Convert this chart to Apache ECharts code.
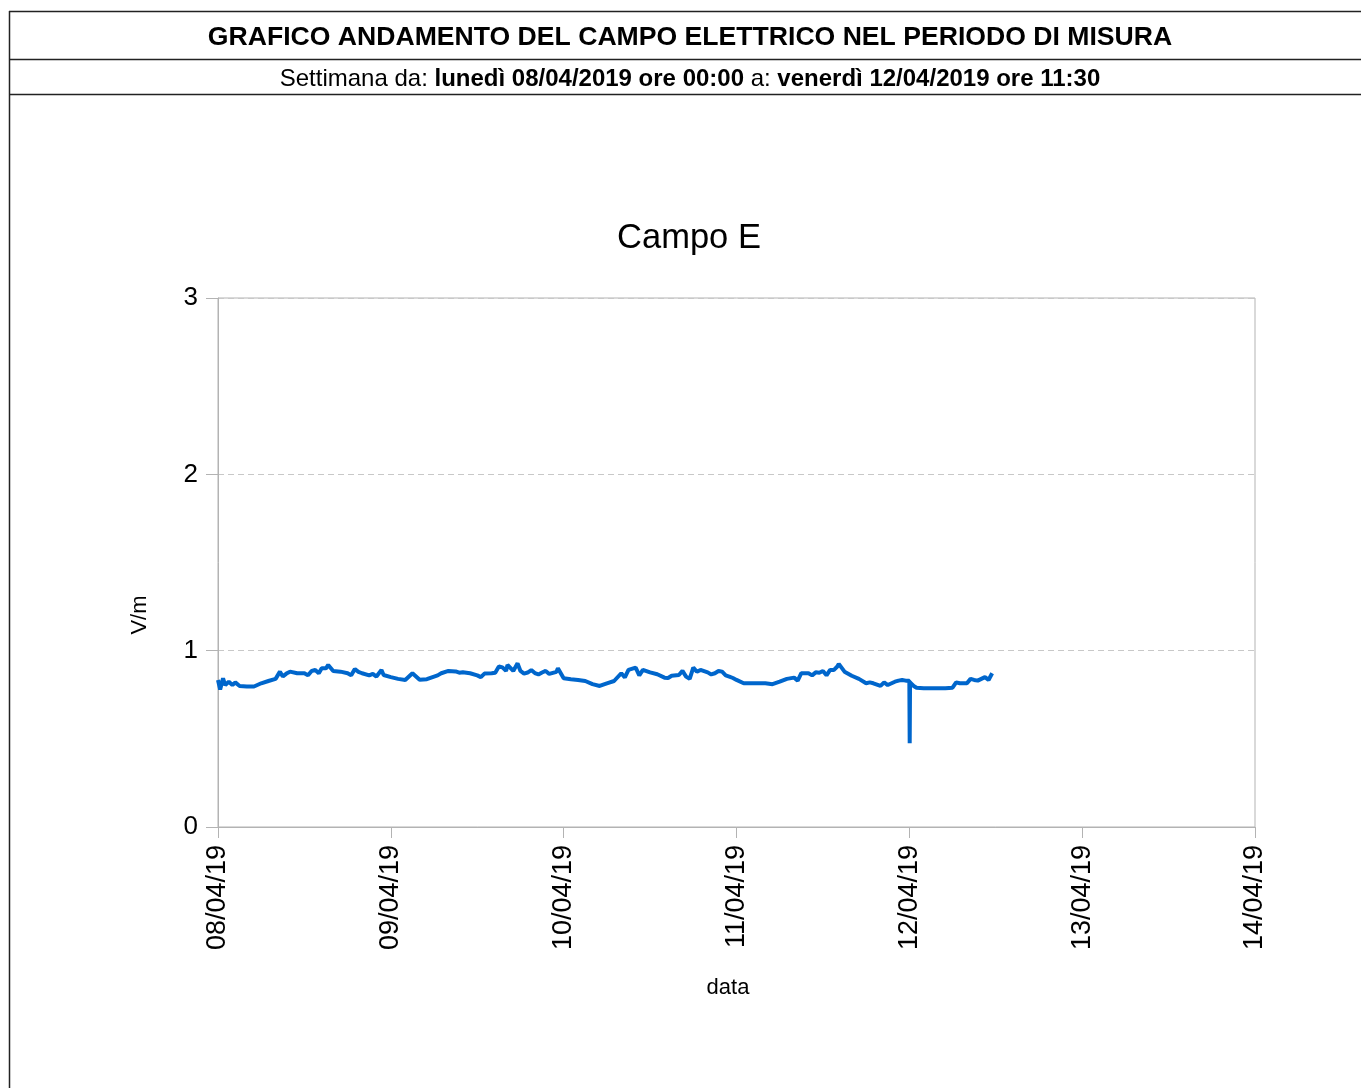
<!DOCTYPE html>
<html>
<head>
<meta charset="utf-8">
<script src="https://cdn.jsdelivr.net/npm/echarts@6/dist/echarts.min.js"></script>
<style>
  html, body { margin: 0; padding: 0; background: #fff; }
  #chart { width: 1361px; height: 1088px; }
</style>
</head>
<body>
<div id="chart"></div>
<script>
// tick labels on the x axis, one per day (hours from 08/04 00:00)
var dayLabels = ['08/04/19', '09/04/19', '10/04/19', '11/04/19', '12/04/19', '13/04/19', '14/04/19'];

// hourly readings (V/m), h0..h23 of each day
var day1 = [0.834, 0.805, 0.805, 0.800, 0.797, 0.797, 0.815, 0.828, 0.840, 0.853, 0.881, 0.872,
            0.872, 0.885, 0.872, 0.900, 0.885, 0.881, 0.872, 0.896, 0.872, 0.860, 0.853, 0.862];
var day2 = [0.850, 0.840, 0.834, 0.872, 0.835, 0.838, 0.853, 0.872, 0.885, 0.882, 0.878, 0.872,
            0.860, 0.870, 0.872, 0.910, 0.885, 0.885, 0.885, 0.876, 0.873, 0.876, 0.868, 0.880];
var day3 = [0.843, 0.838, 0.834, 0.828, 0.810, 0.800, 0.815, 0.828, 0.872, 0.891, 0.904, 0.891,
            0.877, 0.866, 0.847, 0.858, 0.862, 0.853, 0.904, 0.891, 0.877, 0.872, 0.881, 0.853];
var day4 = [0.834, 0.815, 0.815, 0.815, 0.815, 0.810, 0.824, 0.840, 0.847, 0.872, 0.872, 0.877,
            0.885, 0.891, 0.910, 0.881, 0.858, 0.840, 0.815, 0.815, 0.800, 0.805, 0.824, 0.834];
var day5 = [0.830, 0.790, 0.787, 0.787, 0.787, 0.787, 0.790, 0.815, 0.815, 0.834, 0.840, 0.834];

// readings between the hours: [hours from start, V/m]
var extraPoints = [
  [0.3, 0.780], [0.7, 0.843], [1.5, 0.824], [2.4, 0.820], [8.6, 0.881], [9.5, 0.870],
  [12.5, 0.860], [13.5, 0.890], [14.4, 0.900], [15.3, 0.919], [18.5, 0.860], [19.5, 0.880],
  [21.5, 0.868], [22.7, 0.890],
  [30.5, 0.860], [33.5, 0.875], [36.5, 0.850], [38.5, 0.875], [39.5, 0.905], [40.2, 0.919],
  [41.6, 0.928], [42.5, 0.870], [43.5, 0.890], [44.5, 0.865], [45.5, 0.885], [47.2, 0.900],
  [56.5, 0.848], [58.5, 0.860], [62.5, 0.845], [64.5, 0.885], [65.5, 0.840], [66.5, 0.880],
  [68.5, 0.865], [69.5, 0.885], [70.5, 0.860], [71.5, 0.845],
  [80.5, 0.830], [82.5, 0.860], [83.5, 0.875], [84.5, 0.860], [85.5, 0.890], [86.2, 0.925],
  [90.5, 0.820], [92.5, 0.820], [94.5, 0.830], [95.5, 0.830],
  [96.05, 0.475], [96.1, 0.820], [96.6, 0.800], [102.5, 0.820], [104.5, 0.840], [105.5, 0.830],
  [106.5, 0.850], [107.2, 0.830], [107.5, 0.872]
];

var days = [day1, day2, day3, day4, day5];
var points = [];
days.forEach(function (d, i) {
  d.forEach(function (v, h) {
    points.push([i * 24 + h, v]);
  });
});
points = points.concat(extraPoints);
points.sort(function (a, b) { return a[0] - b[0]; });

var font = 'Liberation Sans, Arial, sans-serif';
var chart = echarts.init(document.getElementById('chart'));

chart.setOption({
  animation: false,
  backgroundColor: '#fff',
  graphic: [
    // frame of the report page
    { type: 'line', shape: { x1: 9.5, y1: 11, x2: 9.5, y2: 1088 }, style: { stroke: '#222', lineWidth: 1.5 } },
    { type: 'line', shape: { x1: 9, y1: 11.5, x2: 1361, y2: 11.5 }, style: { stroke: '#222', lineWidth: 1.5 } },
    { type: 'line', shape: { x1: 9, y1: 59.5, x2: 1361, y2: 59.5 }, style: { stroke: '#222', lineWidth: 1.5 } },
    { type: 'line', shape: { x1: 9, y1: 94.5, x2: 1361, y2: 94.5 }, style: { stroke: '#222', lineWidth: 1.5 } },
    {
      type: 'text', x: 690, y: 38,
      style: {
        text: 'GRAFICO ANDAMENTO DEL CAMPO ELETTRICO NEL PERIODO DI MISURA',
        font: 'bold 26.6px ' + font, fill: '#000', textAlign: 'center', textVerticalAlign: 'middle'
      }
    },
    {
      type: 'text', x: 690, y: 79,
      style: {
        text: '{n|Settimana da: }{b|lunedì 08/04/2019 ore 00:00}{n| a: }{b|venerdì 12/04/2019 ore 11:30}',
        align: 'center', verticalAlign: 'middle',
        rich: {
          n: { fontSize: 24, fontFamily: font, fill: '#000' },
          b: { fontSize: 24, fontFamily: font, fontWeight: 'bold', fill: '#000' }
        }
      }
    },
    {
      type: 'text', x: 689, y: 238,
      style: { text: 'Campo E', font: '34.5px ' + font, fill: '#000', textAlign: 'center', textVerticalAlign: 'middle' }
    },
    {
      type: 'text', x: 140, y: 615, rotation: Math.PI / 2,
      style: { text: 'V/m', font: '22px ' + font, fill: '#000', textAlign: 'center', textVerticalAlign: 'middle' }
    },
    {
      type: 'text', x: 728, y: 988,
      style: { text: 'data', font: '22px ' + font, fill: '#000', textAlign: 'center', textVerticalAlign: 'middle' }
    }
  ],
  grid: {
    left: 218, right: 106, top: 298, bottom: 261,
    show: true, borderColor: '#b3b3b3', borderWidth: 1
  },
  xAxis: {
    type: 'value',
    min: 0, max: 144, interval: 24,
    axisLine: { lineStyle: { color: '#b3b3b3' } },
    axisTick: { show: true, length: 11, lineStyle: { color: '#b3b3b3' } },
    axisLabel: {
      rotate: 90, margin: 18, fontSize: 27, fontFamily: font, color: '#000',
      formatter: function (v) { return dayLabels[Math.round(v / 24)]; }
    },
    splitLine: { show: false }
  },
  yAxis: {
    type: 'value',
    min: 0, max: 3, interval: 1,
    axisLine: { show: true, lineStyle: { color: '#b3b3b3' } },
    axisTick: { show: true, length: 12, lineStyle: { color: '#b3b3b3' } },
    axisLabel: { margin: 20, fontSize: 26, fontFamily: font, color: '#000' },
    splitLine: { show: true, lineStyle: { color: '#c8c8c8', type: [6, 4] } }
  },
  series: [{
    type: 'line',
    data: points,
    showSymbol: false,
    lineStyle: { color: '#0066cc', width: 4 },
    itemStyle: { color: '#0066cc' }
  }]
});
</script>
</body>
</html>
